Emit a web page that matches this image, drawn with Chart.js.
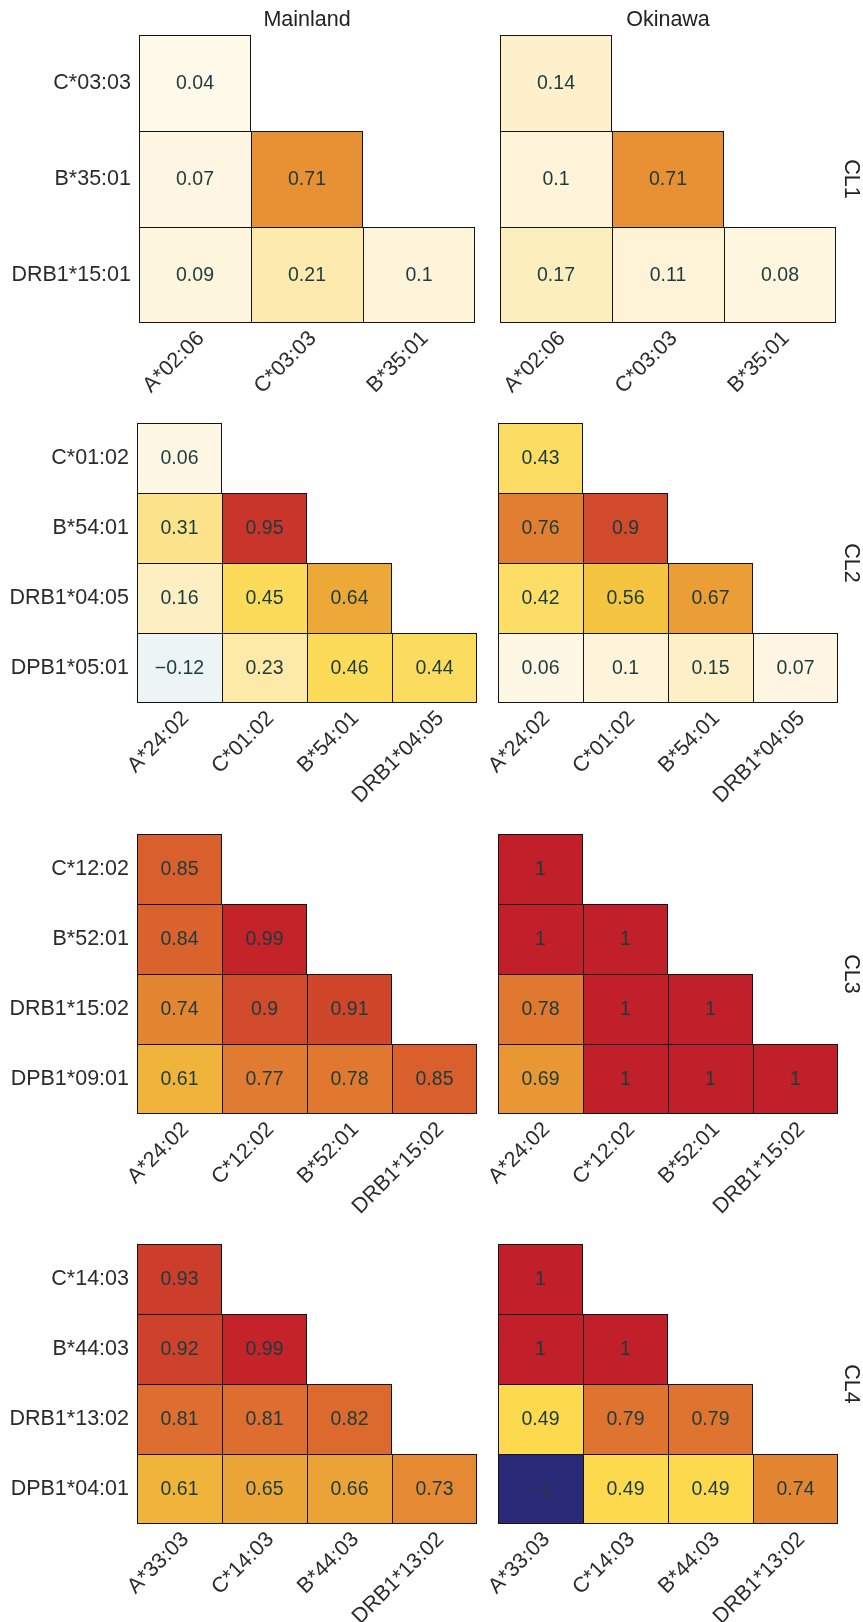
<!DOCTYPE html>
<html>
<head>
<meta charset="utf-8">
<title>HLA haplotype LD heatmaps</title>
<script src="https://cdn.jsdelivr.net/npm/chart.js@4/dist/chart.umd.min.js"></script>
<style>
  html, body { margin: 0; padding: 0; background: #ffffff; }
  #board { position: relative; width: 863px; height: 1622px; overflow: hidden; background: #ffffff; }
  #board canvas { position: absolute; }
</style>
</head>
<body>
<div id="board"></div>
<script>
// ---- cluster CL1 ----
const cl1Columns = ['A*02:06', 'C*03:03', 'B*35:01'];
const cl1Rows = ['C*03:03', 'B*35:01', 'DRB1*15:01'];
const cl1Mainland = [[0.04], [0.07, 0.71], [0.09, 0.21, 0.1]];
const cl1Okinawa = [[0.14], [0.1, 0.71], [0.17, 0.11, 0.08]];

// ---- cluster CL2 ----
const cl2Columns = ['A*24:02', 'C*01:02', 'B*54:01', 'DRB1*04:05'];
const cl2Rows = ['C*01:02', 'B*54:01', 'DRB1*04:05', 'DPB1*05:01'];
const cl2Mainland = [[0.06], [0.31, 0.95], [0.16, 0.45, 0.64], [-0.12, 0.23, 0.46, 0.44]];
const cl2Okinawa = [[0.43], [0.76, 0.9], [0.42, 0.56, 0.67], [0.06, 0.1, 0.15, 0.07]];

// ---- cluster CL3 ----
const cl3Columns = ['A*24:02', 'C*12:02', 'B*52:01', 'DRB1*15:02'];
const cl3Rows = ['C*12:02', 'B*52:01', 'DRB1*15:02', 'DPB1*09:01'];
const cl3Mainland = [[0.85], [0.84, 0.99], [0.74, 0.9, 0.91], [0.61, 0.77, 0.78, 0.85]];
const cl3Okinawa = [[1], [1, 1], [0.78, 1, 1], [0.69, 1, 1, 1]];

// ---- cluster CL4 ----
const cl4Columns = ['A*33:03', 'C*14:03', 'B*44:03', 'DRB1*13:02'];
const cl4Rows = ['C*14:03', 'B*44:03', 'DRB1*13:02', 'DPB1*04:01'];
const cl4Mainland = [[0.93], [0.92, 0.99], [0.81, 0.81, 0.82], [0.61, 0.65, 0.66, 0.73]];
const cl4Okinawa = [[1], [1, 1], [0.49, 0.79, 0.79], [-1, 0.49, 0.49, 0.74]];

const populations = ['Mainland', 'Okinawa'];
const clusterNames = ['CL1', 'CL2', 'CL3', 'CL4'];

const FONT = '"Liberation Sans", Arial, Helvetica, sans-serif';
Chart.defaults.font.family = FONT;
Chart.defaults.color = '#2b2b2b';

// diverging fill: navy for -1, cream at 0, through gold and orange to red at 1
const colourStops = [
  [-1, '#2a2a78'], [-0.3, '#cfe8fa'], [0, '#fffcf4'], [0.1, '#fef4da'], [0.2, '#fdebb2'],
  [0.5, '#fcd84a'], [0.61, '#f0b43a'], [0.72, '#e68c33'], [0.85, '#d9602d'], [1, '#c11f29']
];
function hexRgb(h) {
  return [1, 3, 5].map(i => parseInt(h.slice(i, i + 2), 16));
}
function ldColour(v) {
  for (let i = 1; i < colourStops.length; i++) {
    const [v1, c1] = colourStops[i];
    if (v <= v1) {
      const [v0, c0] = colourStops[i - 1];
      const t = (v - v0) / (v1 - v0);
      const a = hexRgb(c0), b = hexRgb(c1);
      return 'rgb(' + a.map((x, k) => Math.round(x + (b[k] - x) * t)).join(',') + ')';
    }
  }
  return colourStops[colourStops.length - 1][1];
}
function fmt(v) { return String(v).replace('-', '\u2212'); }

// page placement of each cluster band (whole pixels keep cell edges crisp)
const bands = [
  { top: 35, bottom: 323, padTop: 35, xH: 110, main: [139, 475], oki: [500, 836] },
  { top: 423, bottom: 703, padTop: 30, xH: 110, main: [137, 477], oki: [498, 838] },
  { top: 834, bottom: 1114, padTop: 30, xH: 110, main: [137, 477], oki: [498, 838] },
  { top: 1244, bottom: 1524, padTop: 30, xH: 98, main: [137, 477], oki: [498, 838] }
];

const clusters = [
  { cols: cl1Columns, rows: cl1Rows, main: cl1Mainland, oki: cl1Okinawa },
  { cols: cl2Columns, rows: cl2Rows, main: cl2Mainland, oki: cl2Okinawa },
  { cols: cl3Columns, rows: cl3Rows, main: cl3Mainland, oki: cl3Okinawa },
  { cols: cl4Columns, rows: cl4Rows, main: cl4Mainland, oki: cl4Okinawa }
];

const board = document.getElementById('board');

function drawPanel(bandIdx, side) {
  const band = bands[bandIdx];
  const cl = clusters[bandIdx];
  const values = cl[side];
  const n = cl.rows.length;
  const isMain = side === 'main';
  const [cellL, cellR] = band[side];
  const canvasLeft = isMain ? 0 : 470;
  const canvasW = isMain ? 490 : 863 - 470;
  const canvasTop = band.top - band.padTop;
  const canvasH = band.padTop + (band.bottom - band.top) + band.xH;

  const canvas = document.createElement('canvas');
  canvas.width = canvasW;
  canvas.height = canvasH;
  canvas.style.left = canvasLeft + 'px';
  canvas.style.top = canvasTop + 'px';
  canvas.style.width = canvasW + 'px';
  canvas.style.height = canvasH + 'px';
  board.appendChild(canvas);

  // one floating-bar dataset per row; the row occupies [n-1-r, n-r] on the y scale
  const datasets = cl.rows.map((rowName, r) => ({
    label: rowName,
    data: cl.cols.map((_, c) => (c < values[r].length ? [n - 1 - r, n - r] : null)),
    backgroundColor: cl.cols.map((_, c) => (c < values[r].length ? ldColour(values[r][c]) : 'rgba(0,0,0,0)')),
    borderColor: '#141414',
    borderWidth: (ctx) => ({
      top: 1,
      left: 1,
      right: ctx.dataIndex === r ? 1 : 0,
      bottom: r === n - 1 ? 1 : 0
    }),
    borderSkipped: false,
    inflateAmount: 0,
    grouped: false,
    barPercentage: 1,
    categoryPercentage: 1
  }));

  const cellText = {
    id: 'cellText',
    afterDatasetsDraw(chart) {
      const ctx = chart.ctx;
      ctx.save();
      ctx.font = '19.5px ' + FONT;
      ctx.fillStyle = '#1b3b3d';
      ctx.textAlign = 'center';
      ctx.textBaseline = 'middle';
      chart.data.datasets.forEach((ds, r) => {
        const meta = chart.getDatasetMeta(r);
        ds.data.forEach((d, c) => {
          if (d === null) return;
          const p = meta.data[c].getCenterPoint();
          ctx.fillText(fmt(values[r][c]), p.x, p.y + 1);
        });
      });
      ctx.restore();
    }
  };

  const captions = {
    id: 'captions',
    afterDraw(chart) {
      const ctx = chart.ctx;
      const area = chart.chartArea;
      ctx.save();
      ctx.font = '21.5px ' + FONT;
      ctx.fillStyle = '#222222';
      ctx.textAlign = 'center';
      ctx.textBaseline = 'middle';
      if (bandIdx === 0) {
        ctx.fillText(populations[isMain ? 0 : 1], (area.left + area.right) / 2, 20 - canvasTop);
      }
      if (!isMain) {
        ctx.translate(851 - canvasLeft, (area.top + area.bottom) / 2);
        ctx.rotate(Math.PI / 2);
        ctx.fillText(clusterNames[bandIdx], 0, 0);
      }
      ctx.restore();
    }
  };

  new Chart(canvas, {
    type: 'bar',
    data: { labels: cl.cols, datasets },
    options: {
      responsive: false,
      maintainAspectRatio: false,
      devicePixelRatio: 1,
      animation: false,
      events: [],
      layout: {
        padding: {
          left: isMain ? 0 : cellL - canvasLeft,
          right: canvasLeft + canvasW - cellR,
          top: band.padTop,
          bottom: 0
        }
      },
      plugins: { legend: { display: false }, tooltip: { enabled: false }, title: { display: false } },
      scales: {
        x: {
          type: 'category',
          offset: true,
          grid: { display: false, drawTicks: false },
          border: { display: false },
          ticks: {
            autoSkip: false,
            minRotation: 45,
            maxRotation: 45,
            padding: 3,
            labelOffset: 6,
            color: '#2b2b2b',
            font: { size: 21.5, family: FONT }
          },
          afterFit(scale) { scale.height = band.xH; }
        },
        y: {
          type: 'linear',
          display: isMain,
          min: 0,
          max: n,
          grid: { display: false, drawTicks: false },
          border: { display: false },
          afterBuildTicks(scale) {
            scale.ticks = cl.rows.map((_, i) => ({ value: i + 0.5 }));
          },
          ticks: {
            autoSkip: false,
            padding: 8,
            color: '#2b2b2b',
            font: { size: 21.5, family: FONT },
            callback: (value) => cl.rows[Math.round(n - 0.5 - value)]
          },
          afterFit(scale) { if (isMain) scale.width = cellL - canvasLeft; }
        }
      }
    },
    plugins: [cellText, captions]
  });
}

for (let b = 0; b < bands.length; b++) {
  drawPanel(b, 'main');
  drawPanel(b, 'oki');
}
</script>
</body>
</html>
